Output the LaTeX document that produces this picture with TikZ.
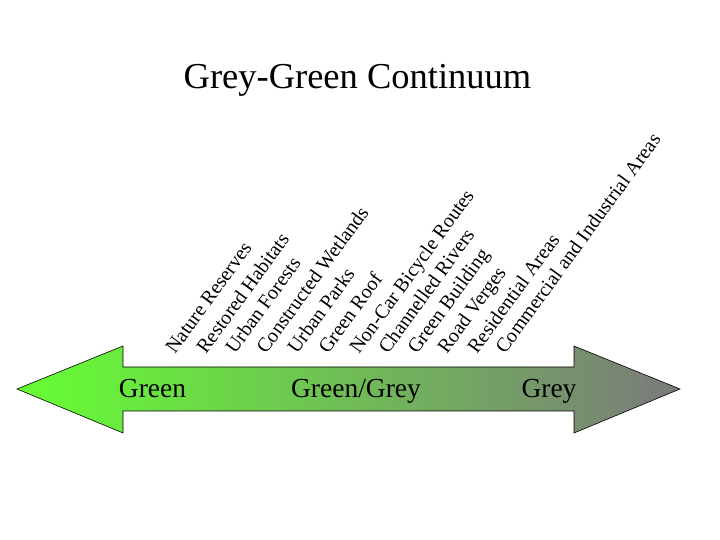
\documentclass[tikz,border=0pt]{standalone}
\usepackage{fontspec}
\setmainfont{Liberation Serif}
\usepackage{tikz}
\definecolor{GreenEnd}{RGB}{102,255,51}
\definecolor{GreyEnd}{RGB}{122,122,122}
\begin{document}
\begin{tikzpicture}[x=1pt,y=1pt,
  item/.style={anchor=base west,rotate=54,inner sep=0pt,font=\fontsize{20}{24}\selectfont},
  pole/.style={anchor=base,inner sep=0pt,font=\fontsize{27.5}{32}\selectfont}]
\useasboundingbox (0,0) rectangle (720,540);
\node[anchor=base,inner sep=0pt,font=\fontsize{36.5}{42}\selectfont] (title) at (357.5,451) {Grey-Green Continuum};
%the double arrow
\shadedraw[left color=GreenEnd,right color=GreyEnd,draw=black,line width=.6pt]
  (17,151) -- (123,194) -- (123,173) -- (574,173) -- (574,194) -- (680,151)
  -- (574,107) -- (574,129) -- (123,129) -- (123,107) -- cycle;
\node[pole] (green) at (152.5,142.5) {Green};
\node[pole] (greengrey) at (356,142.5) {Green/Grey};
\node[pole] (grey) at (549,142.5) {Grey};
%the land uses
\node[item] (reserves) at (175,185) {Nature Reserves};
\node[item] (habitats) at (206,185) {Restored Habitats};
\node[item] (forests) at (235,185) {Urban Forests};
\node[item] (wetlands) at (266,185) {Constructed Wetlands};
\node[item] (parks) at (297,185) {Urban Parks};
\node[item] (roof) at (328,185) {Green Roof};
\node[item] (routes) at (359,185) {Non-Car Bicycle Routes};
\node[item] (rivers) at (388,185) {Channelled Rivers};
\node[item] (building) at (417,185) {Green Building};
\node[item] (verges) at (447,185) {Road Verges};
\node[item] (residential) at (477,185) {Residential Areas};
\node[item] (industrial) at (505,185) {Commercial and Industrial Areas};
\end{tikzpicture}
\end{document}
